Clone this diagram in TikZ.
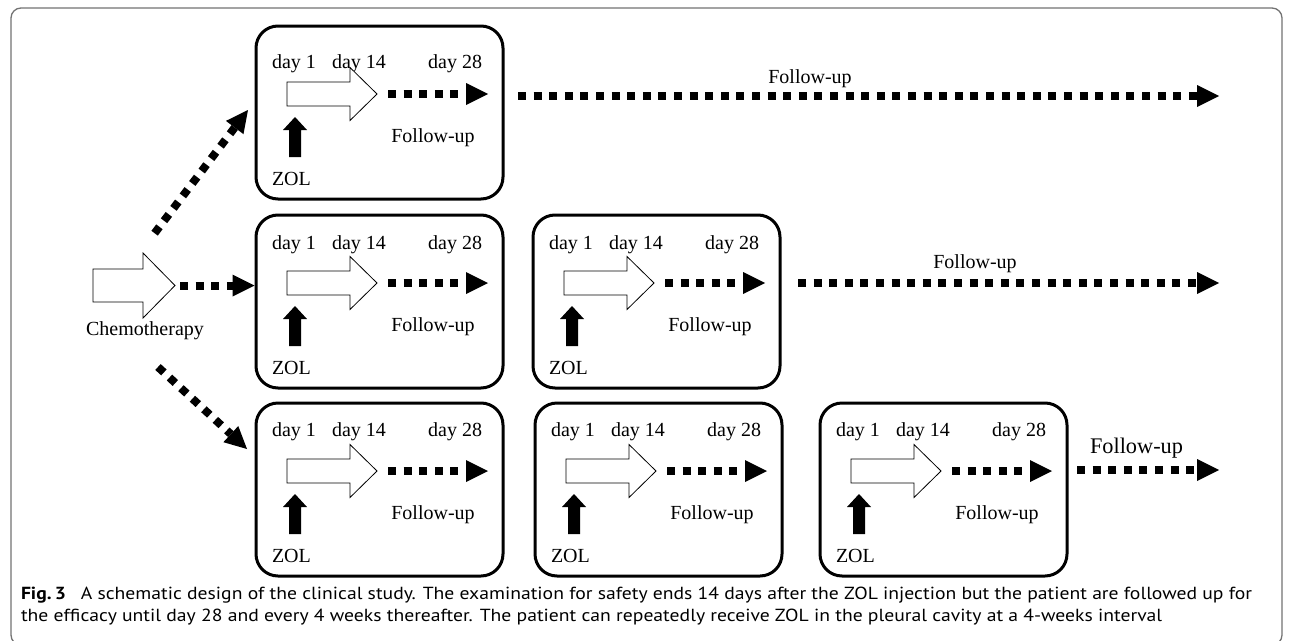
\documentclass[tikz,border=0pt]{standalone}
\usepackage{fontspec}
\setmainfont{Liberation Serif}
\newfontfamily\capfont{PT Sans}
\usetikzlibrary{arrows.meta}
\tikzset{
  lbl/.style={font=\fontsize{20}{24}\selectfont, inner sep=0pt, outer sep=0pt},
  biglbl/.style={font=\fontsize{22.3}{26}\selectfont, inner sep=0pt, outer sep=0pt},
  zbox/.style={draw, line width=3pt, rounded corners=22pt, minimum width=247pt, minimum height=173pt, inner sep=0pt},
  hollowarr/.style={draw, line width=0.8pt, fill=white},
  zolarr/.style={fill=black},
  dots/.style={line width=8pt, dash pattern=on 8pt off 7.6pt, -{Triangle[length=22pt,width=22pt,line width=0pt]}},
  caption/.style={font=\capfont\fontsize{17.5}{20}\selectfont, inner sep=0pt, outer sep=0pt, anchor=base west},
  zolbox/.pic={
    \node[zbox] (-box) at (123.5,86.5) {};
    \node[lbl, anchor=base west] (-d1) at (16,#1) {day 1};
    \node[lbl, anchor=base west] (-d14) at (76,#1) {day 14};
    \node[lbl, anchor=base east] (-d28) at (226,#1) {day 28};
    \draw[hollowarr] (31,56) -- (94,56) -- (94,41.5) -- (121,68) -- (94,94.5) -- (94,80) -- (31,80) -- cycle;
    \coordinate (-tip) at (121,68);
    \coordinate (-start) at (132,68);
    \coordinate (-end) at (232,68);
    \draw[dots] (-start) -- (-end);
    \node[lbl, anchor=base] (-fu) at (177,116) {Follow-up};
    \fill[zolarr] (33,131) -- (33,104) -- (27,104) -- (39,91) -- (51,104) -- (45,104) -- (45,131) -- cycle;
    \node[lbl, anchor=base west] (-zol) at (16,159) {ZOL};
  }
}
\begin{document}
\begin{tikzpicture}[x=1pt, y=-1pt]
  \useasboundingbox (0,0) rectangle (1293,640);
  \fill[white] (0,0) rectangle (1293,640);
  \draw[black!55, line width=1.3pt, rounded corners=10pt] (11,8) rectangle (1282,645);

  % chemotherapy
  \draw[hollowarr] (93,269) -- (143,269) -- (143,253) -- (175,285.5) -- (143,318) -- (143,302) -- (93,302) -- cycle;
  \coordinate (chemotip) at (175,285.5);
  \coordinate (chemostart) at (180,285.5);
  \node[lbl, anchor=base] (chemo) at (145,335) {Chemotherapy};

  % boxes
  \pic (b11) at (256,26) {zolbox=42};
  \pic (b21) at (256,215) {zolbox=34};
  \pic (b22) at (533,215) {zolbox=34};
  \pic (b31) at (256,403) {zolbox=33};
  \pic (b32) at (535,403) {zolbox=33};
  \pic (b33) at (820,403) {zolbox=33};

  % connectors from chemotherapy
  \coordinate (up0) at (154.6,233.2);
  \coordinate (up1) at (248,110);
  \coordinate (dn0) at (158,367);
  \coordinate (dn1) at (247,449);
  \draw[dots] (up0) -- (up1);
  \draw[dots] (dn0) -- (dn1);
  \draw[dots] (chemostart) -- (b21-box.west |- chemostart);

  % long follow-up arrows
  \coordinate (f1s) at (518,96);
  \coordinate (f1e) at (1219,96);
  \coordinate (f2s) at (798,283);
  \coordinate (f2e) at (1219,283);
  \coordinate (f3s) at (1077,470);
  \coordinate (f3e) at (1219,470);
  \draw[dots] (f1s) -- (f1e);
  \draw[dots] (f2s) -- (f2e);
  \draw[dots] (f3s) -- (f3e);
  \node[lbl, anchor=base] (fu1) at (810,83) {Follow-up};
  \node[lbl, anchor=base] (fu2) at (975,268) {Follow-up};
  \node[biglbl, anchor=base] (fu3) at (1136.5,453) {Follow-up};

  % caption
  \node[caption] (cap1) at (21,599) {\scalebox{1.123}[1]{\textbf{Fig.\,3}\hspace{0.75em}A schematic design of the clinical study. The examination for safety ends 14 days after the ZOL injection but the patient are followed up for}};
  \node[caption] (cap2) at (21,621) {\scalebox{1.123}[1]{the efficacy until day 28 and every 4 weeks thereafter. The patient can repeatedly receive ZOL in the pleural cavity at a 4-weeks interval}};
\end{tikzpicture}
\end{document}
